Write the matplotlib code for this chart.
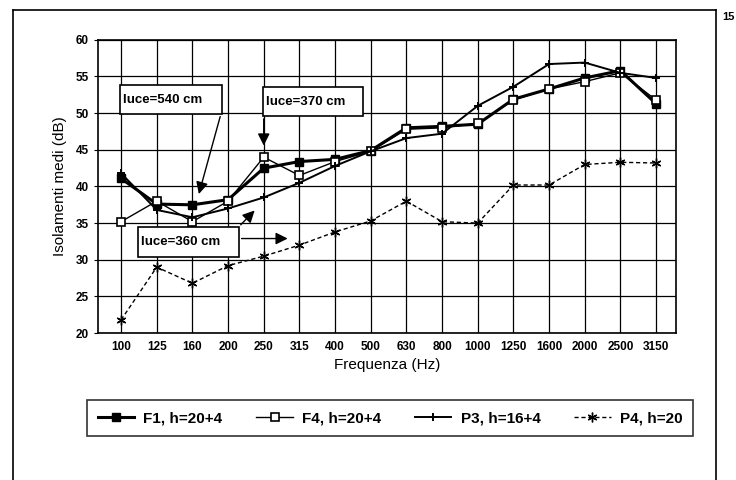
import numpy as np
import matplotlib
matplotlib.use("Agg")
import matplotlib.pyplot as plt
from matplotlib.lines import Line2D
from matplotlib.patches import Rectangle

plt.rcParams['font.family'] = ['Liberation Sans', 'DejaVu Sans']
plt.rcParams['font.weight'] = 'bold'

# frequency bands (Hz)
freqs = ['100', '125', '160', '200', '250', '315', '400', '500', '630', '800',
         '1000', '1250', '1600', '2000', '2500', '3150']

# isolamenti medi (dB)
f1 = [41.1, 37.6, 37.5, 38.2, 42.5, 43.4, 43.7, 44.9, 48.0, 48.2,
      48.5, 51.9, 53.3, 54.8, 55.8, 51.3]
f4 = [35.2, 38.0, 35.2, 38.0, 44.0, 41.5, 43.4, 44.8, 47.8, 48.0,
      48.6, 51.8, 53.3, 54.3, 55.5, 51.8]
p3 = [41.8, 36.8, 35.8, 37.0, 38.5, 40.5, 42.8, 44.8, 46.6, 47.2,
      51.0, 53.6, 56.7, 56.9, 55.5, 54.8]
p4 = [21.8, 29.0, 26.8, 29.2, 30.5, 32.0, 33.8, 35.3, 38.0, 35.2,
      35.0, 40.2, 40.2, 43.0, 43.3, 43.2]

labels = ['F1, h=20+4', 'F4, h=20+4', 'P3, h=16+4', 'P4, h=20']

x = np.arange(len(freqs))

fig = plt.figure(figsize=(7.36, 4.8), dpi=100)
ax = fig.add_axes([0.133, 0.306, 0.785, 0.611])

ax.plot(x, f1, color='black', lw=2.2, marker='s', ms=5.5, mfc='black', label=labels[0])
ax.plot(x, f4, color='black', lw=1.0, marker='s', ms=5.5, mfc='white', mew=1.2, label=labels[1])
ax.plot(x, p3, color='black', lw=1.4, marker='+', ms=6, mew=1.4, label=labels[2])
ax.plot(x, p4, color='black', lw=1.0, ls=(0, (3, 2)), marker=(6, 2, 0), ms=7, mew=1.0, label=labels[3])

ax.set_xlim(-0.65, 15.55)
ax.set_ylim(20, 60)
ax.set_yticks(np.arange(20, 61, 5))
ax.set_xticks(x)
ax.set_xticklabels(freqs, fontsize=8.5)
ax.tick_params(axis='y', labelsize=8.5, length=3)
ax.tick_params(axis='x', length=0, pad=6)
ax.grid(True, color='black', lw=0.9)
ax.set_axisbelow(True)
for s in ax.spines.values():
    s.set_linewidth(1.2)

ax.set_xlabel('Frequenza (Hz)', fontsize=11, labelpad=3)
ax.set_ylabel('Isolamenti medi (dB)', fontsize=11, labelpad=6)

# annotation boxes
arrow = dict(arrowstyle='-|>', color='black', lw=1.0, mutation_scale=18)
boxes = [((-0.03, 49.9), 2.86, 3.9, 'luce=540 cm'),
         ((3.98, 49.6), 2.8, 3.9, 'luce=370 cm'),
         ((0.48, 30.4), 2.82, 4.1, 'luce=360 cm')]
for (bx, by), bw, bh, txt in boxes:
    ax.add_patch(Rectangle((bx, by), bw, bh, fc='white', ec='black', lw=1.2, zorder=5))
    ax.text(bx + 0.08, by + bh / 2, txt, fontsize=9.5, va='center', ha='left', zorder=6)

ax.annotate('', xy=(2.16, 38.6), xytext=(2.8, 49.9), arrowprops=arrow, zorder=5)
ax.annotate('', xy=(4.0, 45.2), xytext=(4.0, 49.6), arrowprops=arrow, zorder=5)
ax.annotate('', xy=(3.8, 37.0), xytext=(3.3, 34.5), arrowprops=arrow, zorder=5)
ax.annotate('', xy=(4.75, 32.9), xytext=(3.3, 32.9), arrowprops=arrow, zorder=5)

# legend
leg = fig.legend(loc='center', bbox_to_anchor=(0.53, 0.129), ncol=4, fontsize=11,
                 frameon=True, fancybox=False, edgecolor='black', handlelength=2.4,
                 handletextpad=0.6, columnspacing=2.2, borderpad=0.7)
leg.get_frame().set_linewidth(1.2)

# outer page frame
fig.add_artist(Line2D([0.018, 0.973], [0.979, 0.979], transform=fig.transFigure, color='black', lw=1.2))
fig.add_artist(Line2D([0.018, 0.018], [0.0, 0.979], transform=fig.transFigure, color='black', lw=1.2))
fig.add_artist(Line2D([0.973, 0.973], [0.0, 0.979], transform=fig.transFigure, color='black', lw=1.2))
fig.text(0.981, 0.958, '15', fontsize=8)

fig.savefig('out.png', dpi=100)
